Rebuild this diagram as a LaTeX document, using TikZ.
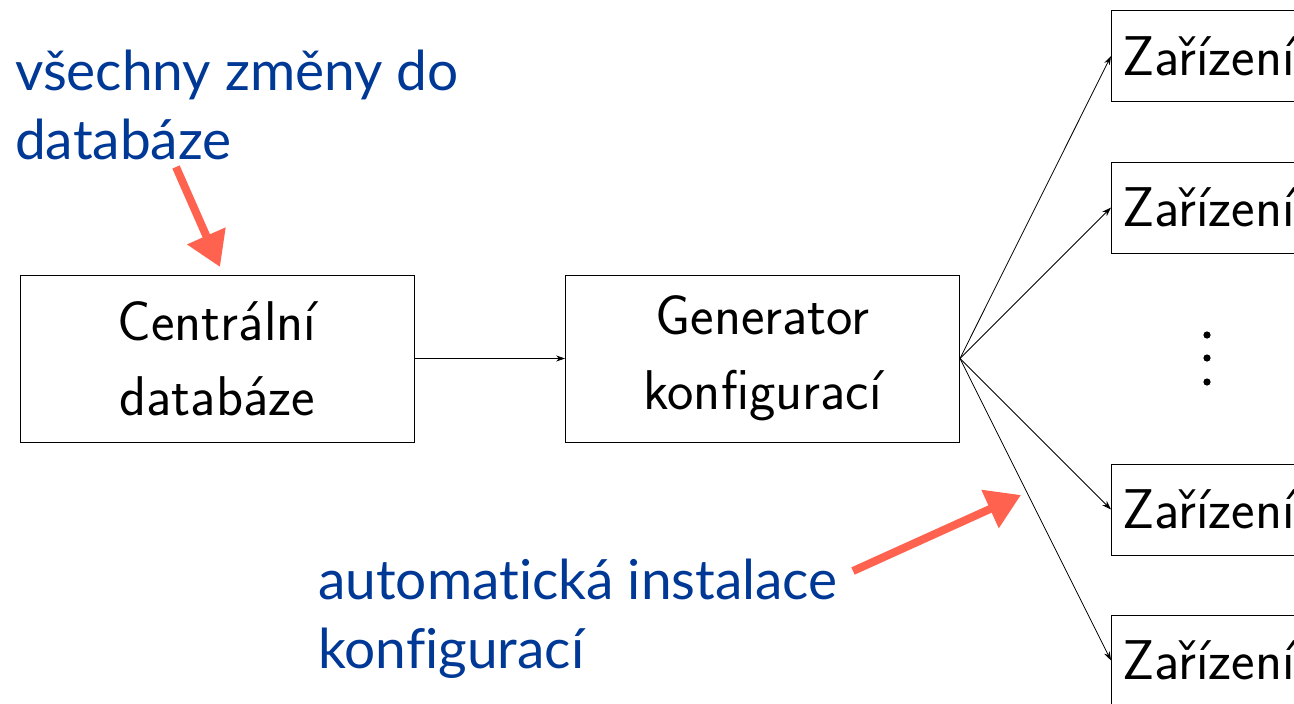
\documentclass[tikz,border=0pt]{standalone}
\usepackage{fontspec}
\newfontfamily\notefont[Ligatures={NoCommon}]{Lato}
\usetikzlibrary{arrows.meta}
\definecolor{noteblue}{RGB}{0,56,150}
\definecolor{notered}{RGB}{255,99,80}
\tikzset{
  block/.style={draw, line width=0.9pt, minimum width=394pt, minimum height=167pt,
    align=center, font=\sffamily\fontsize{56}{75}\selectfont, inner sep=0pt},
  device/.style={draw, line width=0.9pt, anchor=west, minimum height=91pt,
    text width=300pt, inner xsep=11pt, inner ysep=0pt, align=left,
    font=\sffamily\fontsize{56}{65}\selectfont},
  flow/.style={line width=0.8pt, -{Stealth[length=9pt,width=6pt]}},
  note/.style={text=noteblue, align=left, inner sep=0pt, anchor=base west,
    font=\notefont\fontsize{55}{69}\selectfont},
  pointer/.style={draw=notered, line width=8pt,
    -{Triangle[length=34pt,width=40pt]}, notered}
}
\begin{document}
\begin{tikzpicture}[x=1pt, y=-1pt]
  \clip (0,0) rectangle (1294,704);
  % main blocks
  \node[block] (db)  at (217,358.5) {Centrální\\databáze};
  \node[block] (gen) at (762.5,358.5) {Generator\\konfigurací};
  % devices
  \node[device] (z1) at (1111,56)  {Zařízení};
  \node[device] (z2) at (1111,207.5) {Zařízení};
  \node[device] (z3) at (1111,509.5) {Zařízení};
  \node[device] (z4) at (1111,660.5) {Zařízení};
  % vertical ellipsis between the device boxes
  \foreach \yy in {335,358,382} \fill (1207,\yy) circle (3.6pt);
  % data flow
  \draw[flow] (db.east) -- (gen.west);
  \foreach \z in {z1,z2,z3,z4} \draw[flow] (gen.east) -- (\z.west);
  % annotations (anchored at the baseline of their last line)
  \node[note] (n1) at (15,159) {všechny změny do\\databáze};
  \node[note] (n2) at (318,668) {automatická instalace\\konfigurací};
  \coordinate (n1tail) at (176,167);
  \coordinate (n1tip)  at (220,267);
  \coordinate (n2tail) at (853,571);
  \coordinate (n2tip)  at (1021,495);
  \draw[pointer] (n1tail) -- (n1tip);
  \draw[pointer] (n2tail) -- (n2tip);
\end{tikzpicture}
\end{document}
